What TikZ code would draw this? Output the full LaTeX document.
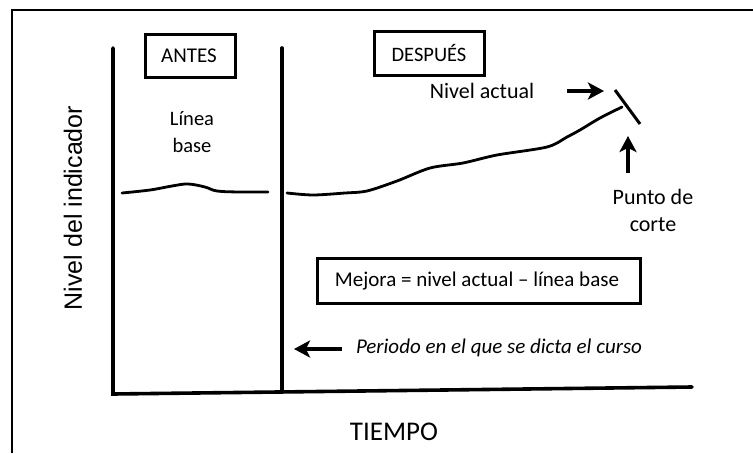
\documentclass[tikz,border=0pt]{standalone}
\usepackage{fontspec}
\setmainfont{Carlito}
\newfontfamily\arialfont{Liberation Sans}
\usetikzlibrary{arrows.meta}
\begin{document}
\begin{tikzpicture}[x=1pt,y=-1pt,
  axis/.style={line width=3.6pt,line cap=round},
  curve/.style={line width=2.8pt,line cap=round,line join=round},
  labelbox/.style={draw,line width=3.2pt,inner sep=0pt,anchor=north west},
  arr/.style={line width=4pt,-{Stealth[length=16pt,width=17pt,inset=4pt]}},
  txt/.style={inner sep=0pt,align=center}]
\useasboundingbox (0,0) rectangle (753,453);
\fill[white] (0,0) rectangle (753,453);
% frame
\draw[line width=1.8pt] (12,453) -- (12,10) -- (753,10);
% axes
\coordinate (ytop) at (113,48);
\coordinate (orig) at (113,394);
\coordinate (xend) at (692,387);
\coordinate (dtop) at (282,48);
\coordinate (dbot) at (282,392);
\draw[axis] (ytop) -- (orig) -- (xend);
\draw[axis] (dtop) -- (dbot);
% boxes
\node[labelbox,minimum width=90pt,minimum height=43pt] (antes) at (144,33) {};
\node[txt,font=\fontsize{21}{21}\selectfont] (antesT) at (189,56) {ANTES};
\node[labelbox,minimum width=110pt,minimum height=44pt] (desp) at (373,30) {};
\node[txt,font=\fontsize{20.5}{20.5}\selectfont] (despT) at (429,53) {DESPUÉS};
\node[labelbox,minimum width=323pt,minimum height=45pt] (mej) at (316,257) {};
\node[txt,font=\fontsize{21}{21}\selectfont] (mejT) at (477,281) {Mejora = nivel actual – línea base};
% texts
\node[txt,font=\fontsize{20.5}{27}\selectfont] (lb) at (192,132) {Línea\\base};
\node[txt,font=\fontsize{22}{22}\selectfont] (niv) at (482,91) {Nivel actual};
\node[txt,font=\fontsize{22}{27}\selectfont] (pc) at (653,210) {Punto de\\corte};
\node[txt,font=\fontsize{21}{21}\selectfont\itshape] (per) at (499,348) {Periodo en el que se dicta el curso};
\node[txt,font=\fontsize{27}{27}\selectfont] (tiempo) at (394,432) {TIEMPO};
\node[txt,font=\arialfont\fontsize{25}{25}\selectfont,rotate=90] (ylab) at (73,208) {Nivel del indicador};
% curves
\draw[curve] plot[smooth,tension=0.6] coordinates {(122,193) (150,190) (172,186) (188,184) (205,187) (217,191) (240,192) (268,192)};
\draw[curve] plot[smooth,tension=0.5] coordinates {(287,193) (313,195) (345,193) (367,191) (397,181) (430,168) (463,163) (497,155) (547,147) (567,137) (580,130) (600,118) (622,107)};
% cut mark
\coordinate (c1) at (615,90);
\coordinate (c2) at (640,124);
\draw[line width=3pt] (c1) -- (c2);
% arrows
\coordinate (a1s) at (567,91);
\coordinate (a1e) at (604,91);
\draw[arr] (a1s) -- (a1e);
\coordinate (a2s) at (628,173);
\coordinate (a2e) at (628,136);
\draw[arr] (a2s) -- (a2e);
\coordinate (a3s) at (342,349);
\coordinate (a3e) at (294,349);
\draw[arr] (a3s) -- (a3e);
\end{tikzpicture}
\end{document}
